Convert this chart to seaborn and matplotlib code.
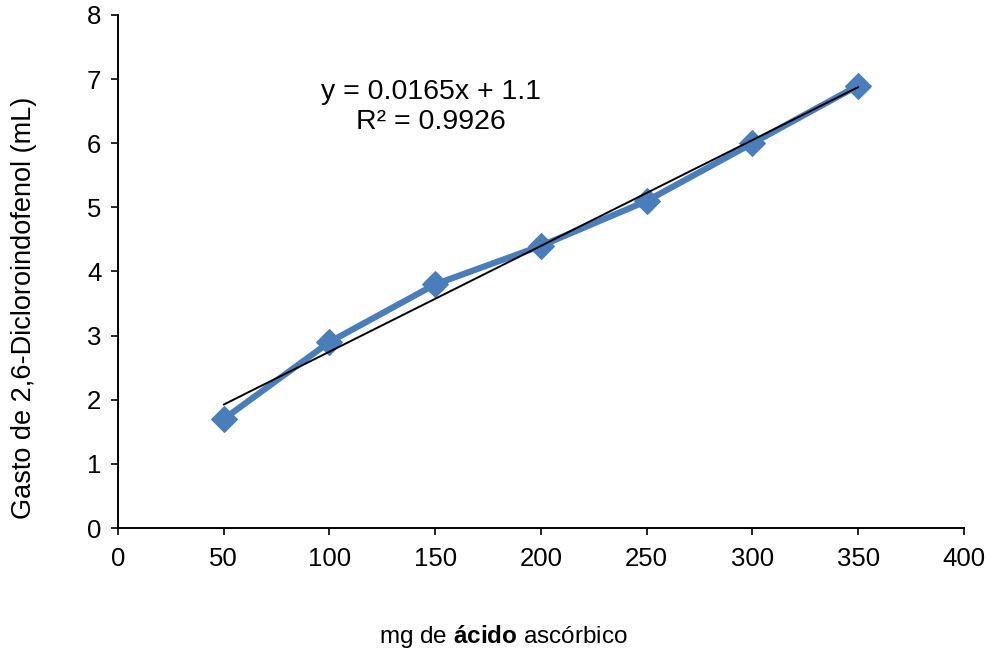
import matplotlib
matplotlib.use("Agg")
import matplotlib.pyplot as plt
from matplotlib import font_manager
import seaborn as sns
import numpy as np
import pandas as pd

# Titration calibration data
acido_mg = [50, 100, 150, 200, 250, 300, 350]
gasto_ml = [1.7, 2.9, 3.8, 4.4, 5.1, 6.0, 6.9]
slope = 0.0165
intercept = 1.1
r2 = 0.9926
x_ticks = [0, 50, 100, 150, 200, 250, 300, 350, 400]
y_ticks = [0, 1, 2, 3, 4, 5, 6, 7, 8]

sns.set_theme(style="white")
plt.rcParams["font.family"] = ["Liberation Sans", "DejaVu Sans"]
plt.rcParams["text.color"] = "black"
plt.rcParams["axes.labelcolor"] = "black"
plt.rcParams["xtick.color"] = "black"
plt.rcParams["ytick.color"] = "black"

names = {f.name for f in font_manager.fontManager.ttflist}
narrow = "Liberation Sans Narrow" if "Liberation Sans Narrow" in names else "Liberation Sans"
plt.rcParams["mathtext.fontset"] = "custom"
plt.rcParams["mathtext.rm"] = narrow
plt.rcParams["mathtext.bf"] = narrow + ":bold"

df = pd.DataFrame({"mg": acido_mg, "ml": gasto_ml})

fig = plt.figure(figsize=(9.9, 6.51), dpi=100)
ax = fig.add_axes([0.1192, 0.1889, 0.8545, 0.7881])

blue = "#4A7EBB"
sns.lineplot(data=df, x="mg", y="ml", ax=ax, color=blue, linewidth=4.5,
             marker="D", markersize=13, markeredgecolor=blue,
             markerfacecolor=blue, zorder=3)

# linear trendline across the data range
xt = np.array([min(acido_mg), max(acido_mg)])
ax.plot(xt, slope * xt + intercept, color="black", linewidth=1.4, zorder=4)

ax.text(148, 6.56, f"y = {slope}x + {intercept}\nR² = {r2}",
        ha="center", va="center", fontsize=20.5, linespacing=1.2)

ax.set_xlim(0, 400)
ax.set_ylim(0, 8)
ax.set_xticks(x_ticks)
ax.set_yticks(y_ticks)
ax.tick_params(axis="both", which="major", labelsize=18.5, direction="out",
               length=5, width=1.2, color="black", bottom=True, left=True,
               pad=7)
ax.tick_params(axis="x", pad=9)
for side in ["top", "right"]:
    ax.spines[side].set_visible(False)
for side in ["left", "bottom"]:
    ax.spines[side].set_color("black")
    ax.spines[side].set_linewidth(1.4)

ax.set_ylabel("Gasto de 2,6-Dicloroindofenol (mL)", fontsize=19.5)
ax.yaxis.set_label_coords(-0.0957, 0.429)
ax.set_xlabel(r"mg de $\mathbf{ácido}$ ascórbico", fontsize=17.5,
              fontfamily=narrow)
ax.xaxis.set_label_coords(0.456, -0.185)

fig.savefig("out.png", dpi=100)
